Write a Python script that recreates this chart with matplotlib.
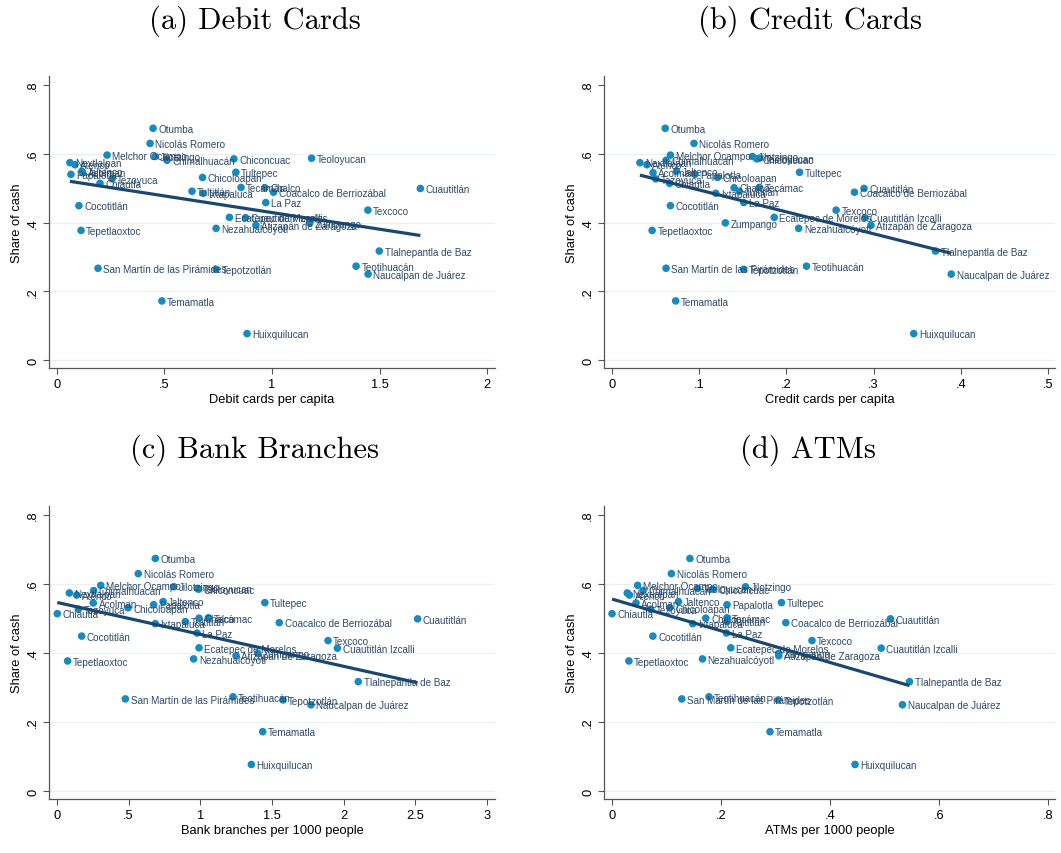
import numpy as np
import matplotlib
matplotlib.use("Agg")
import matplotlib.pyplot as plt

# municipalities and share of cash (same for every panel)
names = ["Otumba", "Nicolás Romero", "Melchor Ocampo", "Jilotzingo", "Chimalhuacán",
         "Teoloyucan", "Chiconcuac", "Nextlalpan", "Atenco", "Acolman", "Jaltenco",
         "Papalotla", "Chicoloapan", "Tezoyuca", "Chiautla", "Tecámac", "Chalco",
         "Tultitlán", "Cuautitlán", "Coacalco de Berriozábal", "Ixtapaluca", "La Paz",
         "Cocotitlán", "Texcoco", "Ecatepec de Morelos", "Cuautitlán Izcalli", "Zumpango",
         "Atizapán de Zaragoza", "Nezahualcóyotl", "Tepetlaoxtoc", "Tlalnepantla de Baz",
         "Teotihuacán", "San Martín de las Pirámides", "Tepotzotlán", "Naucalpan de Juárez",
         "Temamatla", "Huixquilucan", "Tultepec"]
share = [0.674, 0.630, 0.596, 0.592, 0.581, 0.587, 0.585, 0.574, 0.568, 0.545, 0.549,
         0.540, 0.531, 0.527, 0.514, 0.502, 0.501, 0.491, 0.499, 0.488, 0.485, 0.458,
         0.449, 0.436, 0.415, 0.414, 0.399, 0.392, 0.383, 0.377, 0.317, 0.273, 0.267,
         0.264, 0.250, 0.172, 0.077, 0.546]

debit = [0.447, 0.433, 0.233, 0.456, 0.512, 1.184, 0.823, 0.060, 0.084, 0.120, 0.116,
         0.065, 0.677, 0.256, 0.200, 0.856, 0.967, 0.628, 1.690, 1.007, 0.679, 0.971,
         0.102, 1.446, 0.802, 0.877, 1.176, 0.925, 0.740, 0.112, 1.499, 1.391, 0.191,
         0.740, 1.447, 0.488, 0.884, 0.832]
credit = [0.061, 0.094, 0.067, 0.161, 0.062, 0.169, 0.166, 0.032, 0.040, 0.047, 0.074,
          0.095, 0.121, 0.050, 0.066, 0.169, 0.140, 0.146, 0.289, 0.278, 0.119, 0.151,
          0.067, 0.257, 0.186, 0.290, 0.130, 0.297, 0.214, 0.046, 0.371, 0.223, 0.062,
          0.151, 0.389, 0.073, 0.346, 0.215]
branches = [0.686, 0.567, 0.305, 0.814, 0.256, 0.981, 0.988, 0.086, 0.137, 0.253, 0.740,
            0.674, 0.495, 0.149, 0.002, 1.056, 0.991, 0.895, 2.516, 1.551, 0.686, 0.977,
            0.172, 1.891, 0.991, 1.956, 1.402, 1.249, 0.953, 0.074, 2.102, 1.228, 0.477,
            1.577, 1.772, 1.435, 1.356, 1.450]
atms = [0.143, 0.109, 0.047, 0.245, 0.057, 0.157, 0.185, 0.028, 0.032, 0.044, 0.122,
        0.211, 0.106, 0.071, 0.000, 0.211, 0.172, 0.211, 0.511, 0.319, 0.148, 0.210,
        0.075, 0.367, 0.218, 0.494, 0.306, 0.306, 0.166, 0.031, 0.546, 0.178, 0.128,
        0.305, 0.533, 0.290, 0.446, 0.311]

W, H = 1061, 854
dot_col = '#168ac1'
lab_col = '#2c4866'
line_col = '#1a476f'
sans = ['Liberation Sans', 'DejaVu Sans']

fig = plt.figure(figsize=(W / 100, H / 100), dpi=100)


def panel(rect, xs, title, xlabel, xlim, xticks, xticklabels, title_xy):
    l, t, r, b = rect
    ax = fig.add_axes([l / W, 1 - b / H, (r - l) / W, (b - t) / H])
    ax.set_xlim(*xlim)
    ax.set_ylim(-0.023, 0.826)
    for g in [0, 0.2, 0.4, 0.6]:
        ax.axhline(g, color='#e8f0f2', lw=0.9, zorder=0)
    ax.scatter(xs, share, s=30, color=dot_col, edgecolor='none', zorder=2)
    for n, x, y in zip(names, xs, share):
        ax.annotate(n, (x, y), xytext=(3.8, -0.5), textcoords='offset points',
                    ha='left', va='center', fontsize=7.1, color=lab_col,
                    family=sans, zorder=2)
    k, c = np.polyfit(xs, share, 1)
    fx = np.array([min(xs), max(xs)])
    ax.plot(fx, k * fx + c, color=line_col, lw=2.3, zorder=3, solid_capstyle='butt')
    for s in ['top', 'right']:
        ax.spines[s].set_visible(False)
    for s in ['left', 'bottom']:
        ax.spines[s].set_color('#555555')
        ax.spines[s].set_linewidth(0.9)
    ax.set_yticks([0, 0.2, 0.4, 0.6, 0.8])
    ax.set_yticklabels(['0', '.2', '.4', '.6', '.8'], rotation=90, va='center',
                       family=sans, fontsize=9.3)
    ax.set_xticks(xticks)
    ax.set_xticklabels(xticklabels, family=sans, fontsize=9.3)
    ax.tick_params(length=4, width=0.8, color='#555555', pad=3)
    ax.set_ylabel('Share of cash', family=sans, fontsize=9.3)
    ax.yaxis.set_label_coords(-0.058, 0.5)
    ax.set_xlabel(xlabel, family=sans, fontsize=9.3)
    ax.xaxis.set_label_coords(0.5, -0.085)
    fig.text(title_xy[0] / W, 1 - title_xy[1] / H, title, ha='center', va='center',
             fontsize=22, family='cmr10')
    return ax


panel((49, 77, 495, 369), debit, '(a) Debit Cards', 'Debit cards per capita',
      (-0.037, 2.037), [0, 0.5, 1, 1.5, 2], ['0', '.5', '1', '1.5', '2'], (255, 21))
panel((604, 77, 1055, 369), credit, '(b) Credit Cards', 'Credit cards per capita',
      (-0.0092, 0.508), [0, 0.1, 0.2, 0.3, 0.4, 0.5], ['0', '.1', '.2', '.3', '.4', '.5'],
      (810, 21))
panel((49, 507, 495, 800), branches, '(c) Bank Branches', 'Bank branches per 1000 people',
      (-0.056, 3.056), [0, 0.5, 1, 1.5, 2, 2.5, 3], ['0', '.5', '1', '1.5', '2', '2.5', '3'],
      (255, 450))
panel((604, 507, 1055, 800), atms, '(d) ATMs', 'ATMs per 1000 people',
      (-0.0147, 0.813), [0, 0.2, 0.4, 0.6, 0.8], ['0', '.2', '.4', '.6', '.8'], (808, 450))

fig.savefig('out.png', dpi=100)
